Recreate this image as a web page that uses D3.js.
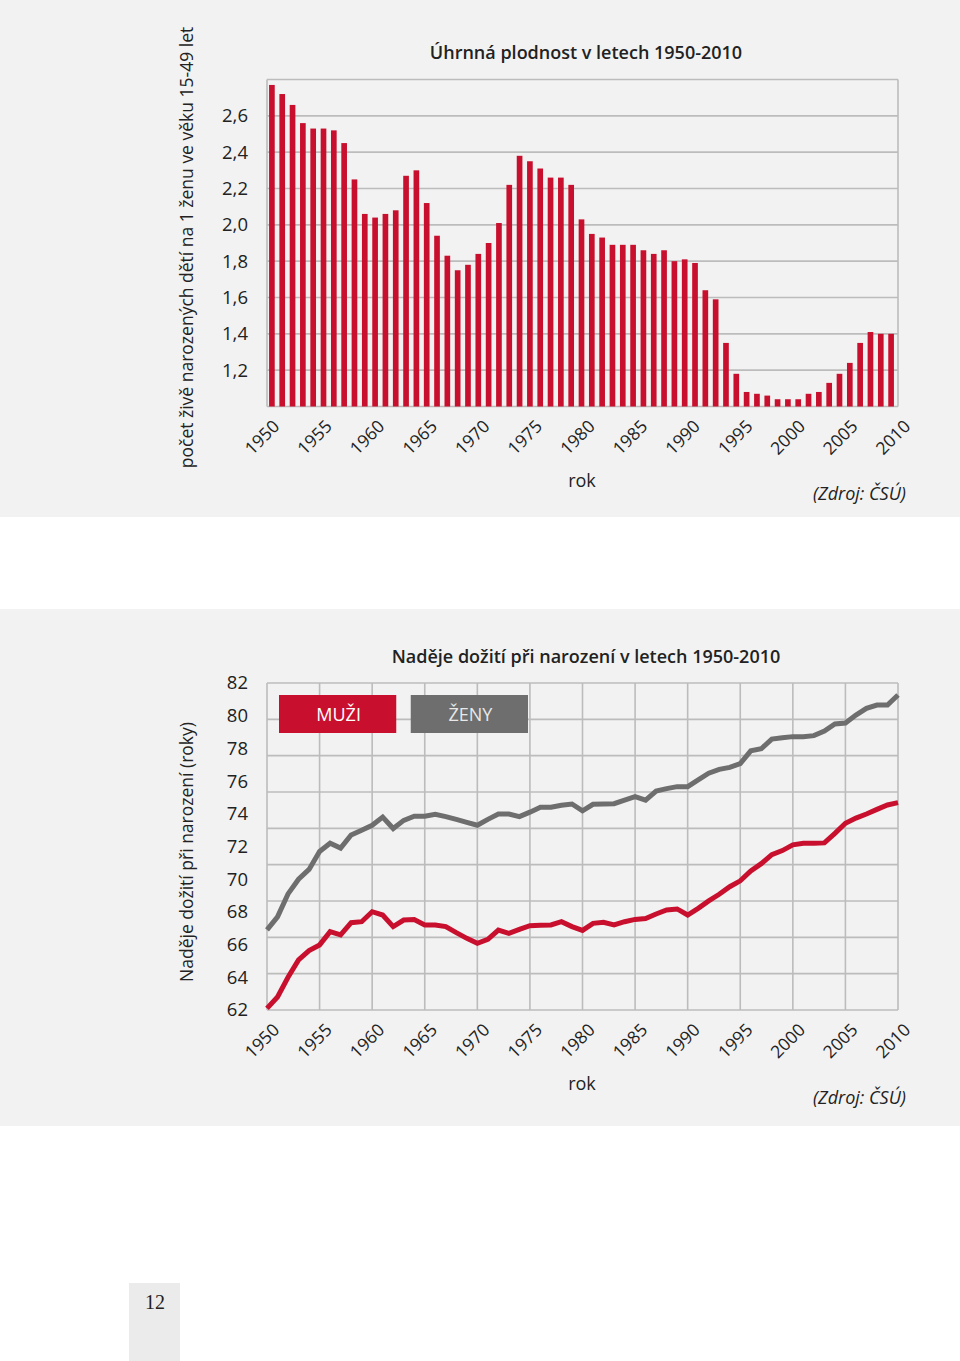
<!DOCTYPE html>
<html><head><meta charset="utf-8">
<script src="https://cdn.jsdelivr.net/npm/d3@7"></script>
<style>
body{margin:0;background:#fff}
svg{display:block}
text{font-family:"Open Sans",sans-serif}
</style>
</head><body>
<svg id="c" width="960" height="1361"></svg>
<script>
const years = d3.range(1950, 2011);
const fertility = [2.77,2.72,2.66,2.56,2.53,2.53,2.52,2.45,2.25,2.06,
  2.04,2.06,2.08,2.27,2.30,2.12,1.94,1.83,1.75,1.78,
  1.84,1.90,2.01,2.22,2.38,2.35,2.31,2.26,2.26,2.22,
  2.03,1.95,1.93,1.89,1.89,1.89,1.86,1.84,1.86,1.80,
  1.81,1.79,1.64,1.59,1.35,1.18,1.08,1.07,1.06,1.04,
  1.04,1.04,1.07,1.08,1.13,1.18,1.24,1.35,1.41,1.40,1.40];
const lifeMale = [62.1,62.8,64.0,65.06,65.63,65.98,66.79,66.59,67.34,67.4,
  68.01,67.81,67.1,67.5,67.54,67.2,67.2,67.1,66.73,66.38,
  66.08,66.32,66.89,66.69,66.93,67.16,67.18,67.2,67.4,67.1,
  66.87,67.3,67.36,67.2,67.4,67.54,67.59,67.87,68.12,68.18,
  67.81,68.22,68.67,69.08,69.54,69.9,70.5,70.95,71.5,71.75,
  72.1,72.2,72.2,72.22,72.8,73.42,73.74,73.99,74.27,74.54,74.68];
const lifeFemale = [66.9,67.7,69.1,70.0,70.6,71.7,72.2,71.9,72.7,73.0,
  73.3,73.8,73.1,73.6,73.85,73.85,73.97,73.83,73.66,73.48,
  73.3,73.66,73.99,73.99,73.83,74.1,74.4,74.4,74.52,74.6,
  74.18,74.58,74.6,74.62,74.84,75.05,74.84,75.39,75.54,75.66,
  75.66,76.07,76.48,76.72,76.84,77.07,77.85,77.98,78.57,78.65,
  78.72,78.72,78.78,79.06,79.49,79.55,80.04,80.45,80.65,80.65,81.27];
const yearTicks = [1950,1955,1960,1965,1970,1975,1980,1985,1990,1995,2000,2005,2010];
const fertTicks = [1.2,1.4,1.6,1.8,2.0,2.2,2.4,2.6];
const lifeTicks = [62,64,66,68,70,72,74,76,78,80,82];
const seriesNames = ["MUŽI","ŽENY"];

const RED = "#c8102e", GRAY = "#6e6e6e", GRID = "#bcbcbc", PANEL = "#f2f2f2";
const svg = d3.select("#c");

// panels
svg.append("rect").attr("x",0).attr("y",0).attr("width",960).attr("height",517).attr("fill",PANEL);
svg.append("rect").attr("x",0).attr("y",609).attr("width",960).attr("height",517).attr("fill",PANEL);
svg.append("rect").attr("x",129).attr("y",1283).attr("width",51).attr("height",78).attr("fill","#ebebeb");
svg.append("text").attr("x",155).attr("y",1309).attr("text-anchor","middle")
  .style("font-family","'Liberation Serif',serif").style("font-size","20px").attr("fill","#222").text("12");

const L = 267, R = 898;
const xl = d3.scaleLinear().domain([1950,2010]).range([L,R]);

function xLabels(g, yPos) {
  const ax = d3.axisBottom(xl).tickValues(yearTicks).tickSize(0).tickFormat(d3.format("d"));
  const a = g.append("g").attr("transform",`translate(0,${yPos})`).call(ax);
  a.select(".domain").remove();
  a.selectAll("text").attr("x",0).attr("y",0).attr("dy",0)
    .attr("transform","translate(13,21) rotate(-45)")
    .style("text-anchor","end").style("font-size","17.5px").style("font-family","'Open Sans',sans-serif")
    .attr("fill","#222");
}
function yLabels(g, scale, ticks, fmt) {
  const ax = d3.axisLeft(scale).tickValues(ticks).tickSize(0).tickPadding(19).tickFormat(fmt);
  const a = g.append("g").attr("transform",`translate(${L},0)`).call(ax);
  a.select(".domain").remove();
  a.selectAll("text").style("font-size","18.5px").style("font-family","'Open Sans',sans-serif").attr("fill","#222");
}

// ---------- top chart ----------
const T1 = 79.5, B1 = 406.5;
const y1 = d3.scaleLinear().domain([1.0, 2.8]).range([B1, T1]);
const xb = d3.scaleBand().domain(years).range([L, 896]).paddingInner(0.45).paddingOuter(0.2);
const g1 = svg.append("g");
g1.selectAll("line.h").data(d3.range(10).map(i => 1.0 + i*0.2)).join("line")
  .attr("x1",L).attr("x2",R).attr("y1",d=>y1(d)).attr("y2",d=>y1(d))
  .attr("stroke",GRID).attr("stroke-width",1.6);
g1.selectAll("line.v").data([1950,2010]).join("line")
  .attr("x1",d=>xl(d)).attr("x2",d=>xl(d)).attr("y1",T1).attr("y2",B1)
  .attr("stroke",GRID).attr("stroke-width",1.6);
g1.selectAll("rect.bar").data(years).join("rect").attr("class","bar")
  .attr("x",d=>xb(d)).attr("width",xb.bandwidth())
  .attr("y",(d,i)=>y1(fertility[i])).attr("height",(d,i)=>B1 - y1(fertility[i]))
  .attr("fill",RED);
yLabels(g1, y1, fertTicks, d => d.toFixed(1).replace(".",","));
xLabels(g1, B1);
g1.append("text").attr("x",586).attr("y",59).attr("text-anchor","middle")
  .style("font-size","18px").style("font-weight","600").attr("fill","#222")
  .text("Úhrnná plodnost v letech 1950-2010");
g1.append("text").attr("transform","translate(193,247.5) rotate(-90)").attr("text-anchor","middle")
  .style("font-size","17.5px").attr("fill","#222")
  .text("počet živě narozených dětí na 1 ženu ve věku 15-49 let");
g1.append("text").attr("x",582).attr("y",487).attr("text-anchor","middle")
  .style("font-size","18px").attr("fill","#222").text("rok");
g1.append("text").attr("x",906).attr("y",500).attr("text-anchor","end")
  .style("font-size","18px").style("font-style","italic").attr("fill","#222").text("(Zdroj: ČSÚ)");

// ---------- bottom chart ----------
const T2 = 683, B2 = 1010;
const y2 = d3.scaleLinear().domain([62, 82]).range([B2, T2]);
const g2 = svg.append("g");
g2.selectAll("line.h").data(d3.range(10).map(i => 62 + i*20/9)).join("line")
  .attr("x1",L).attr("x2",R).attr("y1",d=>y2(d)).attr("y2",d=>y2(d))
  .attr("stroke",GRID).attr("stroke-width",1.6);
g2.selectAll("line.v").data(yearTicks).join("line")
  .attr("x1",d=>xl(d)).attr("x2",d=>xl(d)).attr("y1",T2).attr("y2",B2)
  .attr("stroke",GRID).attr("stroke-width",1.6);
const line = d3.line().x((d,i)=>xl(years[i])).y(d=>y2(d));
g2.append("path").datum(lifeFemale).attr("d",line).attr("fill","none")
  .attr("stroke",GRAY).attr("stroke-width",5);
g2.append("path").datum(lifeMale).attr("d",line).attr("fill","none")
  .attr("stroke",RED).attr("stroke-width",5);
yLabels(g2, y2, lifeTicks, d3.format("d"));
xLabels(g2, B2);
// legend
const lg = d3.scaleBand().domain(seriesNames).range([279, 528]).paddingInner(0.11);
const lcol = [RED, GRAY];
const lt = ["#ffffff", "#e8e8e8"];
g2.selectAll("rect.leg").data(seriesNames).join("rect")
  .attr("x",d=>lg(d)).attr("y",695).attr("width",lg.bandwidth()).attr("height",38)
  .attr("fill",(d,i)=>lcol[i]);
g2.selectAll("text.leg").data(seriesNames).join("text")
  .attr("x",d=>lg(d)+lg.bandwidth()/2+1).attr("y",721).attr("text-anchor","middle")
  .style("font-size","18px").attr("fill",(d,i)=>lt[i]).text(d=>d);
g2.append("text").attr("x",586).attr("y",663).attr("text-anchor","middle")
  .style("font-size","18px").style("font-weight","600").attr("fill","#222")
  .text("Naděje dožití při narození v letech 1950-2010");
g2.append("text").attr("transform","translate(193,852) rotate(-90)").attr("text-anchor","middle")
  .style("font-size","17.5px").attr("fill","#222")
  .text("Naděje dožití při narození (roky)");
g2.append("text").attr("x",582).attr("y",1090).attr("text-anchor","middle")
  .style("font-size","18px").attr("fill","#222").text("rok");
g2.append("text").attr("x",906).attr("y",1104).attr("text-anchor","end")
  .style("font-size","18px").style("font-style","italic").attr("fill","#222").text("(Zdroj: ČSÚ)");
</script>
</body></html>
